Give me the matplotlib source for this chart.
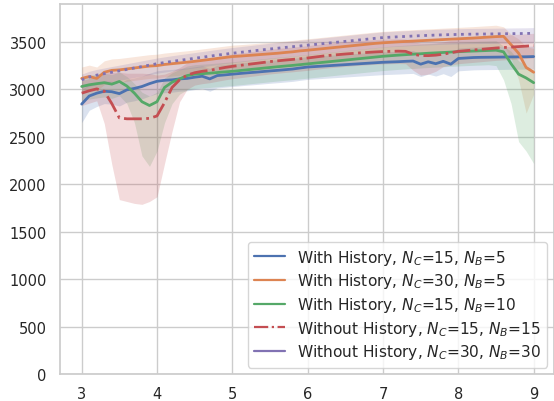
import matplotlib
matplotlib.use("Agg")
import matplotlib.pyplot as plt
from matplotlib.lines import Line2D
import numpy as np
import seaborn as sns

sns.set_theme(style="whitegrid")
plt.rcParams['font.family'] = ['DejaVu Sans']

# x grid 3.0 .. 9.0 in 0.1 steps
x = np.round(np.arange(30, 91) / 10.0, 1)

blue = [2845, 2930, 2960, 2980, 2975, 2955, 2995, 3010, 3030, 3060,
        3085, 3095, 3100, 3110, 3115, 3128, 3138, 3110, 3145, 3152,
        3160, 3167, 3174, 3180, 3187, 3194, 3200, 3207, 3214, 3225,
        3235, 3240, 3245, 3250, 3255, 3260, 3265, 3270, 3275, 3280,
        3285, 3288, 3291, 3295, 3298, 3265, 3290, 3270, 3295, 3265,
        3325, 3330, 3335, 3337, 3338, 3339, 3340, 3341, 3342, 3343, 3345]
blue_dlo = [195, 150, 140, 130, 130, 130, 130, 130, 130, 130,
            130, 130, 130, 130, 130, 130, 130, 130, 130, 130,
            130, 130, 130, 130, 130, 130, 130, 130, 130, 130,
            130, 130, 130, 130, 130, 130, 130, 130, 130, 130,
            130, 130, 130, 130, 130, 130, 130, 130, 130, 130,
            130, 130, 130, 130, 130, 130, 130, 130, 130, 130, 130]
blue_dhi = [150, 130, 110, 110, 110, 110, 110, 110, 110, 110,
            110, 110, 110, 110, 110, 110, 110, 110, 110, 110,
            110, 110, 110, 110, 110, 110, 110, 110, 110, 110,
            110, 110, 110, 110, 110, 110, 110, 110, 110, 110,
            110, 110, 110, 110, 110, 110, 110, 110, 110, 110,
            110, 110, 110, 110, 110, 110, 110, 110, 110, 110, 110]

orange = [3115, 3135, 3115, 3180, 3200, 3205, 3215, 3225, 3235, 3245,
          3250, 3262, 3270, 3278, 3286, 3295, 3305, 3315, 3325, 3335,
          3345, 3350, 3356, 3362, 3368, 3374, 3380, 3388, 3395, 3405,
          3412, 3420, 3428, 3436, 3444, 3452, 3460, 3468, 3476, 3484,
          3490, 3495, 3500, 3504, 3508, 3512, 3516, 3520, 3524, 3528,
          3532, 3536, 3540, 3545, 3550, 3555, 3558, 3470, 3380, 3230, 3180]
orange_dlo = [130, 130, 130, 130, 130, 130, 130, 130, 130, 130,
              130, 130, 130, 130, 130, 130, 130, 130, 130, 130,
              130, 130, 130, 130, 130, 130, 130, 130, 130, 130,
              130, 130, 130, 130, 130, 130, 130, 130, 130, 130,
              130, 130, 130, 130, 130, 130, 130, 130, 130, 130,
              130, 130, 130, 130, 130, 130, 100, 140, 280, 480, 230]
orange_dhi = [120, 120, 120, 120, 120, 120, 120, 120, 120, 120,
              120, 120, 120, 120, 120, 120, 120, 120, 120, 120,
              120, 120, 120, 120, 120, 120, 120, 120, 120, 120,
              120, 120, 120, 120, 120, 120, 120, 120, 120, 120,
              120, 120, 120, 120, 120, 120, 120, 120, 120, 120,
              120, 120, 120, 120, 120, 120, 100, 110, 150, 220, 250]

green = [3030, 3048, 3060, 3070, 3055, 3083, 3035, 2960, 2870, 2830,
         2870, 3020, 3075, 3110, 3145, 3160, 3165, 3170, 3177, 3184,
         3190, 3198, 3206, 3214, 3222, 3230, 3238, 3245, 3252, 3260,
         3268, 3276, 3284, 3292, 3300, 3308, 3316, 3324, 3332, 3340,
         3348, 3354, 3360, 3365, 3370, 3375, 3380, 3384, 3388, 3392,
         3396, 3400, 3403, 3406, 3409, 3412, 3395, 3270, 3160, 3120, 3070]
green_dlo = [150, 150, 150, 150, 150, 150, 185, 310, 570, 640,
             520, 370, 225, 160, 150, 150, 150, 150, 150, 150,
             150, 150, 150, 150, 150, 150, 150, 150, 150, 150,
             150, 150, 150, 150, 150, 150, 150, 150, 150, 150,
             150, 150, 150, 150, 150, 150, 150, 150, 150, 150,
             150, 150, 150, 150, 150, 162, 295, 420, 710, 770, 850]
green_dhi = [100, 100, 100, 100, 100, 100, 100, 100, 100, 100,
             100, 100, 100, 100, 100, 100, 100, 100, 100, 100,
             100, 100, 100, 100, 100, 100, 100, 100, 100, 100,
             100, 100, 100, 100, 100, 100, 100, 100, 100, 100,
             100, 100, 100, 100, 100, 100, 100, 100, 100, 100,
             100, 100, 100, 100, 100, 100, 60, 130, 140, 130, 130]

red = [2960, 2985, 3005, 2980, 2850, 2700, 2690, 2690, 2690, 2695,
       2720, 2860, 3020, 3100, 3150, 3175, 3190, 3200, 3215, 3230,
       3242, 3252, 3262, 3272, 3282, 3292, 3300, 3308, 3315, 3322,
       3330, 3340, 3350, 3358, 3365, 3372, 3378, 3384, 3389, 3394,
       3398, 3400, 3402, 3400, 3370, 3355, 3355, 3360, 3370, 3385,
       3400, 3407, 3414, 3421, 3428, 3435, 3440, 3445, 3450, 3455, 3460]
red_dlo = [130, 130, 125, 340, 640, 860, 870, 890, 900, 875,
           850, 640, 460, 230, 150, 130, 130, 130, 130, 130,
           130, 130, 130, 130, 130, 130, 130, 130, 130, 130,
           130, 130, 130, 130, 130, 130, 130, 130, 130, 130,
           130, 130, 130, 130, 170, 205, 195, 170, 130, 130,
           130, 130, 130, 130, 130, 130, 130, 130, 130, 130, 130]
red_dhi = [130, 130, 130, 200, 330, 480, 480, 480, 480, 470,
           430, 300, 170, 130, 130, 130, 130, 130, 130, 130,
           130, 130, 130, 130, 130, 130, 130, 130, 130, 130,
           130, 130, 130, 130, 130, 130, 130, 130, 130, 130,
           130, 130, 130, 130, 130, 130, 130, 130, 130, 130,
           130, 130, 130, 130, 130, 130, 130, 130, 130, 130, 130]

purple = [3100, 3130, 3150, 3165, 3180, 3195, 3210, 3225, 3240, 3255,
          3270, 3282, 3294, 3305, 3316, 3327, 3338, 3349, 3360, 3370,
          3380, 3389, 3398, 3407, 3416, 3425, 3433, 3441, 3449, 3457,
          3465, 3473, 3481, 3489, 3497, 3505, 3513, 3521, 3529, 3537,
          3545, 3549, 3553, 3557, 3561, 3565, 3568, 3571, 3574, 3576,
          3578, 3580, 3581, 3582, 3583, 3584, 3585, 3586, 3587, 3588, 3590]
purple_dlo = [100, 100, 100, 100, 100, 100, 100, 100, 100, 100,
              100, 100, 100, 100, 100, 100, 100, 100, 100, 100,
              100, 100, 100, 100, 100, 100, 100, 100, 100, 100,
              100, 100, 100, 100, 100, 100, 100, 100, 100, 100,
              100, 100, 100, 100, 100, 100, 100, 100, 100, 100,
              100, 100, 100, 100, 100, 100, 100, 100, 100, 100, 100]
purple_dhi = [60, 60, 60, 60, 60, 60, 60, 60, 60, 60,
              60, 60, 60, 60, 60, 60, 60, 60, 60, 60,
              60, 60, 60, 60, 60, 60, 60, 60, 60, 60,
              60, 60, 60, 60, 60, 60, 60, 60, 60, 60,
              60, 60, 60, 60, 60, 60, 60, 60, 60, 60,
              60, 60, 60, 60, 60, 60, 60, 60, 60, 60, 60]

labels = [r'With History, $N_C$=15, $N_B$=5',
          r'With History, $N_C$=30, $N_B$=5',
          r'With History, $N_C$=15, $N_B$=10',
          r'Without History, $N_C$=15, $N_B$=15',
          r'Without History, $N_C$=30, $N_B$=30']

pal = sns.color_palette("deep")
series = [
    (blue, blue_dlo, blue_dhi, pal[0], '-'),
    (orange, orange_dlo, orange_dhi, pal[1], '-'),
    (green, green_dlo, green_dhi, pal[2], '-'),
    (red, red_dlo, red_dhi, pal[3], '-.'),
    (purple, purple_dlo, purple_dhi, pal[4], ':'),
]

fig = plt.figure(figsize=(5.54, 4.02), dpi=100)
ax = fig.add_axes([0.108, 0.066, 0.892, 0.922])

handles = []
for (m, dlo, dhi, c, ls), lab in zip(series, labels):
    m = np.array(m)
    ax.fill_between(x, m - np.array(dlo), m + np.array(dhi), color=c, alpha=0.2, lw=0)
    ax.plot(x, m, color=c, ls=ls, lw=2)
    # legend keys: only the dash-dot one keeps its style
    handles.append(Line2D([], [], color=c, lw=1.6, ls='-.' if ls == '-.' else '-'))

ax.set_xlim(2.71, 9.27)
ax.set_ylim(0, 3900)
ax.set_xticks(range(3, 10))
ax.set_yticks(range(0, 4000, 500))
ax.tick_params(labelsize=10.5)
ax.tick_params(axis='x', pad=2)
ax.legend(handles, labels, loc='lower right', fontsize=11.1,
          labelspacing=0.3, borderpad=0.4, handletextpad=0.75,
          borderaxespad=0.45)

fig.savefig("out.png", dpi=100)
